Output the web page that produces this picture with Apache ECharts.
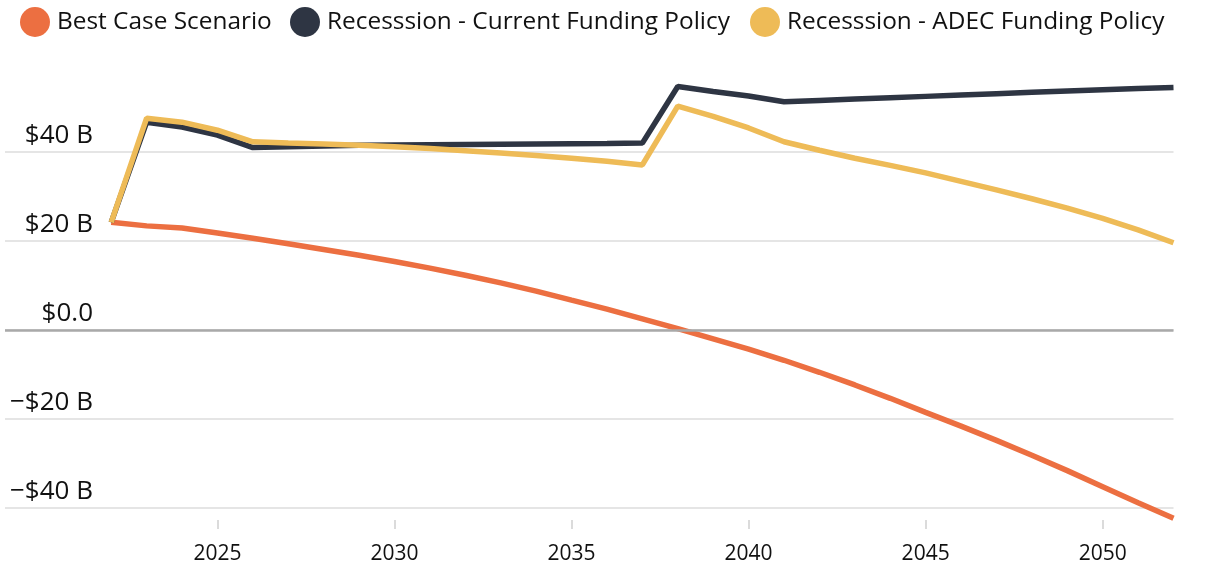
<!DOCTYPE html>
<html>
<head>
<meta charset="utf-8">
<script src="https://cdn.jsdelivr.net/npm/echarts@6/dist/echarts.min.js"></script>
<style>
html,body{margin:0;padding:0;background:#fff;}
#chart{width:1220px;height:574px;}
</style>
</head>
<body>
<div id="chart"></div>
<script>
const years = [];
for (let y = 2022; y <= 2052; y++) years.push(y);

const seriesNames = ['Best Case Scenario', 'Recesssion - Current Funding Policy', 'Recesssion - ADEC Funding Policy'];

const bestCase = [24.2, 23.4, 22.9, 21.8, 20.6, 19.4, 18.1, 16.8, 15.4, 13.9, 12.3, 10.6, 8.75, 6.7, 4.7, 2.5, 0.3, -2.0, -4.3, -6.8, -9.5, -12.35, -15.35, -18.5, -21.6, -24.8, -28.15, -31.6, -35.2, -38.8, -42.3];
const currentPolicy = [24.2, 46.7, 45.6, 43.8, 41.0, 41.2, 41.35, 41.5, 41.6, 41.65, 41.7, 41.75, 41.8, 41.85, 41.9, 42.0, 54.7, 53.6, 52.6, 51.3, 51.6, 51.9, 52.2, 52.5, 52.8, 53.1, 53.4, 53.7, 54.0, 54.25, 54.5];
const adecPolicy = [24.2, 47.6, 46.7, 44.9, 42.3, 42.0, 41.8, 41.5, 41.2, 40.8, 40.3, 39.8, 39.2, 38.6, 37.9, 37.1, 50.3, 48.0, 45.4, 42.3, 40.4, 38.6, 37.0, 35.3, 33.4, 31.5, 29.5, 27.4, 25.1, 22.5, 19.6];

const xTicks = [2025, 2030, 2035, 2040, 2045, 2050];
const yTicks = [-40, -20, 0, 20, 40, 60];

const colors = ['#EC6F41', '#2E3543', '#EEBB57'];
const FONT = 'Open Sans';

function pairs(arr) { return years.map((y, i) => [y, arr[i]]); }

function yLabel(v) {
  if (v === 0) return '$0.0';
  return (v < 0 ? '\u2212' : '') + '$' + Math.abs(v) + ' B';
}

const legendLefts = [20, 290, 750];
const legends = seriesNames.map((n, i) => ({
  data: [n],
  left: legendLefts[i],
  top: 7,
  icon: 'circle',
  itemWidth: 30,
  itemHeight: 30,
  itemGap: 0,
  padding: 0,
  textStyle: { fontFamily: FONT, fontSize: 24.4, color: '#111', padding: [0, 0, 0, 2] }
}));

const chart = echarts.init(document.getElementById('chart'), null, { renderer: 'canvas' });
chart.setOption({
  animation: false,
  color: colors,
  legend: legends,
  grid: { left: 5, right: 46.5, top: 63, bottom: 66, containLabel: false },
  xAxis: {
    type: 'value',
    min: 2019,
    max: 2052,
    offset: 12,
    axisLine: { show: false, onZero: false },
    splitLine: { show: false },
    axisTick: { show: true, length: 9, customValues: xTicks, lineStyle: { color: '#cfcfcf', width: 1.5 } },
    axisLabel: { customValues: xTicks, margin: 24, fontFamily: FONT, fontSize: 21, color: '#111', formatter: v => String(v) }
  },
  yAxis: {
    type: 'value',
    min: yTicks[0],
    max: yTicks[yTicks.length - 1],
    interval: 20,
    axisLine: { show: false },
    axisTick: { show: false },
    splitLine: { show: true, showMaxLine: false, lineStyle: { color: '#dcdcdc', width: 1.5 } },
    axisLabel: {
      inside: true,
      showMaxLabel: false,
      align: 'right',
      verticalAlign: 'bottom',
      margin: 88,
      padding: [0, 0, 3, 0],
      fontFamily: FONT,
      fontSize: 26,
      color: '#111',
      formatter: yLabel
    }
  },
  series: [
    {
      name: seriesNames[0], type: 'line', data: pairs(bestCase), showSymbol: false, clip: false,
      lineStyle: { width: 5.5, color: colors[0] }, z: 3,
      markLine: {
        silent: true, symbol: 'none', label: { show: false },
        lineStyle: { color: '#a9a9a9', width: 2.5, type: 'solid' },
        data: [{ yAxis: 0 }]
      }
    },
    { name: seriesNames[1], type: 'line', data: pairs(currentPolicy), showSymbol: false, clip: false, lineStyle: { width: 5.5, color: colors[1] }, z: 4 },
    { name: seriesNames[2], type: 'line', data: pairs(adecPolicy), showSymbol: false, clip: false, lineStyle: { width: 5.5, color: colors[2] }, z: 5 }
  ]
});
</script>
</body>
</html>
